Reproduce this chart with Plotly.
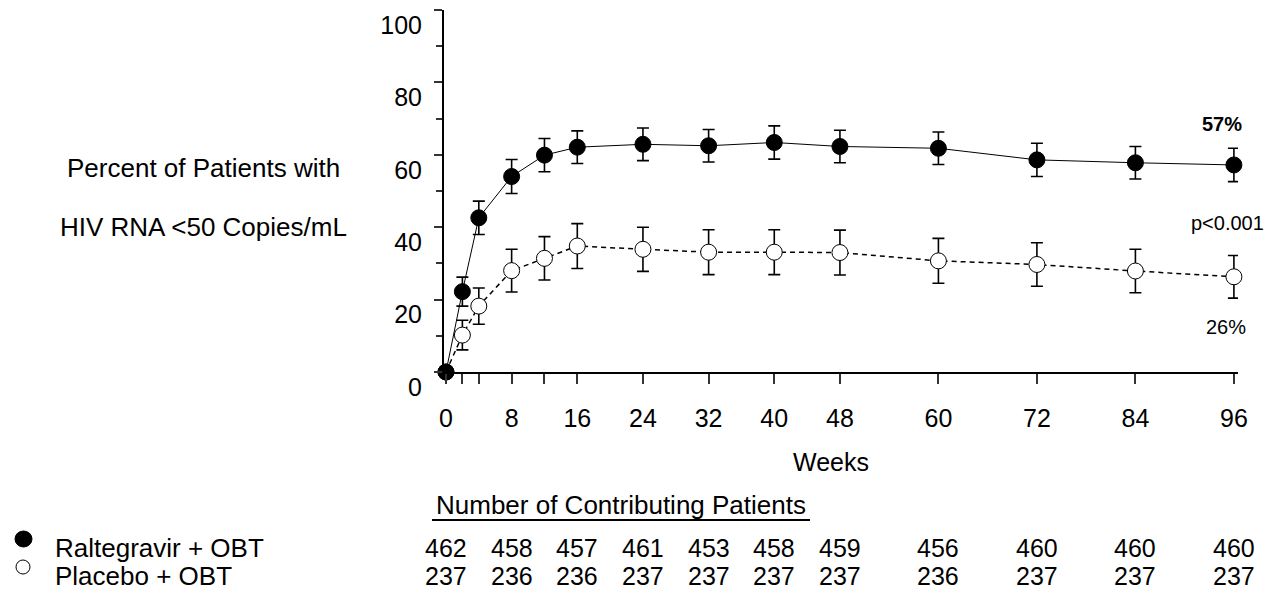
import plotly.graph_objects as go

# ---------------- data ----------------
weeks = [0, 2, 4, 8, 12, 16, 24, 32, 40, 48, 60, 72, 84, 96]
raltegravir = [0, 22.2, 42.6, 54.0, 59.9, 62.1, 62.9, 62.5, 63.4, 62.3, 61.8, 58.6, 57.8, 57.2]
raltegravir_err = [0, 4.0, 4.6, 4.7, 4.6, 4.5, 4.5, 4.5, 4.6, 4.5, 4.5, 4.6, 4.5, 4.6]
placebo = [0, 10.2, 18.2, 28.0, 31.4, 34.8, 33.9, 33.1, 33.1, 33.0, 30.7, 29.7, 27.9, 26.3]
placebo_err = [0, 4.1, 5.0, 5.9, 6.0, 6.2, 6.1, 6.2, 6.2, 6.2, 6.2, 6.0, 6.0, 5.9]

tick_weeks = [0, 2, 4, 8, 12, 16, 24, 32, 40, 48, 60, 72, 84, 96]
label_weeks = [0, 8, 16, 24, 32, 40, 48, 60, 72, 84, 96]
y_ticks = [0, 20, 40, 60, 80, 100]
y_minor_ticks = [10, 30, 50, 70, 90]

table_weeks = [0, 8, 16, 24, 32, 40, 48, 60, 72, 84, 96]
raltegravir_n = [462, 458, 457, 461, 453, 458, 459, 456, 460, 460, 460]
placebo_n = [237, 236, 236, 237, 237, 237, 237, 236, 237, 237, 237]

series_names = ["Raltegravir + OBT", "Placebo + OBT"]
end_labels = ["57%", "p<0.001", "26%"]

FONT = "Arial, 'Liberation Sans', sans-serif"

# ---------------- geometry (screen pixels) ----------------
OFF = 8                      # default page margin around the plot div
SCREEN_W, SCREEN_H = 1277, 591
PLOT_L, PLOT_R, PLOT_T, PLOT_B = 444, 1238, 10, 372
W, H = SCREEN_W - OFF, SCREEN_H - OFF
L = PLOT_L - OFF
T = PLOT_T - OFF
R = W - (PLOT_R - OFF)
B = H - (PLOT_B - OFF)


def py(px):
    return (PLOT_B - px) / (PLOT_B - PLOT_T)


def pxx(px):
    return (px - PLOT_L) / (PLOT_R - PLOT_L)


fig = go.Figure()

fig.add_trace(go.Scatter(
    x=weeks, y=placebo, mode="lines+markers", name=series_names[1],
    line=dict(color="black", width=1.5, dash="5px,4px"),
    marker=dict(symbol="circle", size=16, color="white", line=dict(color="black", width=1)),
    error_y=dict(type="data", array=placebo_err, color="black", thickness=1.6, width=6),
    cliponaxis=False, showlegend=False,
))
fig.add_trace(go.Scatter(
    x=weeks, y=raltegravir, mode="lines+markers", name=series_names[0],
    line=dict(color="black", width=1),
    marker=dict(symbol="circle", size=16, color="black", line=dict(color="black", width=1)),
    error_y=dict(type="data", array=raltegravir_err, color="black", thickness=1.6, width=6),
    cliponaxis=False, showlegend=False,
))

tick_text = [str(w) if w in label_weeks else "" for w in tick_weeks]

fig.update_xaxes(
    range=[-0.24, 96.5], showgrid=False, zeroline=False,
    showline=True, linecolor="black", linewidth=2,
    ticks="outside", ticklen=10, tickwidth=1.5, tickcolor="#333",
    tickvals=tick_weeks, ticktext=tick_text,
    tickfont=dict(family=FONT, size=25, color="black"),
    ticklabelstandoff=13,
)
fig.update_yaxes(
    range=[0, 100], showgrid=False, zeroline=False,
    showline=True, linecolor="black", linewidth=2,
    ticks="outside", ticklen=8, tickwidth=1.5, tickcolor="#333",
    tickvals=y_ticks,
    tickfont=dict(family=FONT, size=25, color="black"),
    ticklabelstandoff=7, ticklabelshift=15,
    minor=dict(tickvals=y_minor_ticks, ticks="outside", ticklen=6,
               tickwidth=1.5, tickcolor="#333"),
)


def text(t, x, y, size, xref="paper", xanchor="center"):
    return dict(text=t, x=x, y=y, xref=xref, yref="paper", xanchor=xanchor, yanchor="middle",
                showarrow=False, font=dict(family=FONT, size=size, color="black"))


ann = [
    text("Weeks", pxx(831), py(462), 25),
    text("Percent of Patients with", pxx(203), py(168), 26),
    text("HIV RNA <50 Copies/mL", pxx(203), py(227), 26),
    text("<b>" + end_labels[0] + "</b>", pxx(1222), py(124), 20),
    text(end_labels[1], pxx(1227), py(223), 20),
    text(end_labels[2], pxx(1226), py(327), 20),
    text("Number of Contributing Patients", pxx(621), py(505), 26),
    text(series_names[0], pxx(53), py(548), 26, xanchor="left"),
    text(series_names[1], pxx(53), py(576), 26, xanchor="left"),
]
for w, n1, n2 in zip(table_weeks, raltegravir_n, placebo_n):
    ann.append(text(str(n1), w, py(548), 25, xref="x"))
    ann.append(text(str(n2), w, py(576), 25, xref="x"))

shapes = [
    dict(type="line", xref="paper", yref="paper", x0=pxx(432), x1=pxx(810), y0=py(520), y1=py(520),
         line=dict(color="black", width=2)),
    dict(type="circle", xref="paper", yref="paper", x0=pxx(15), x1=pxx(32), y0=py(531), y1=py(547),
         fillcolor="black", line=dict(color="black", width=1)),
    dict(type="circle", xref="paper", yref="paper", x0=pxx(16), x1=pxx(30), y0=py(560), y1=py(574),
         fillcolor="white", line=dict(color="black", width=1)),
]

fig.update_layout(
    width=W, height=H,
    margin=dict(l=L, r=R, t=T, b=B, autoexpand=False),
    paper_bgcolor="white", plot_bgcolor="white",
    annotations=ann, shapes=shapes,
    font=dict(family=FONT, color="black"),
)

fig.write_html("out.html")
